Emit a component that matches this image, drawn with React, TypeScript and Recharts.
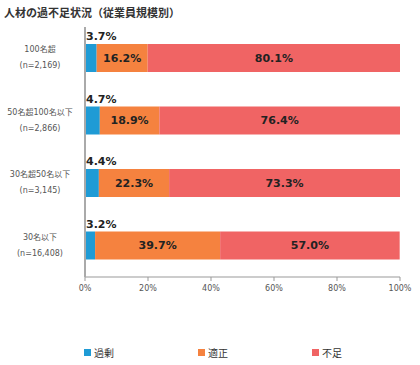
import { Bar, BarChart, LabelList, XAxis, YAxis } from 'recharts'

const sizes = ['100名超', '50名超100名以下', '30名超50名以下', '30名以下']
const counts = ['(n=2,169)', '(n=2,866)', '(n=3,145)', '(n=16,408)']
const excess = [3.7, 4.7, 4.4, 3.2]
const proper = [16.2, 18.9, 22.3, 39.7]
const shortage = [80.1, 76.4, 73.3, 57.0]
const xTicks = [0, 20, 40, 60, 80, 100]

const seriesNames = ['過剰', '適正', '不足']
const colors = ['#1f9bd5', '#f5823f', '#f06464']

const data = sizes.map((name, i) => ({
  name,
  n: counts[i],
  excess: excess[i],
  proper: proper[i],
  shortage: shortage[i],
}))

const font = '"DejaVu Sans", "Noto Sans CJK JP", sans-serif'

function CategoryTick({ x, y, payload, index }: any) {
  return (
    <g>
      <text x={x - 37} y={y - 6} textAnchor='middle' fontSize={8} fill='#555'>
        {payload.value}
      </text>
      <text x={x - 37} y={y + 10} textAnchor='middle' fontSize={8} fill='#555'>
        {counts[index]}
      </text>
    </g>
  )
}

function TopLabel({ x, y, value }: any) {
  return (
    <text x={x + 1} y={y - 4} fontSize={11} fontWeight='bold' fill='#222'>
      {`${value.toFixed(1)}%`}
    </text>
  )
}

const fmt = (v: any) => `${Number(v).toFixed(1)}%`

export default function App() {
  return (
    <div style={{ position: 'absolute', left: 0, top: 0, width: 420, height: 365, background: '#fff', fontFamily: font }}>
      <div style={{ position: 'absolute', left: 4, top: 4, fontSize: 11, fontWeight: 'bold', color: '#333' }}>
        人材の過不足状況（従業員規模別）
      </div>
      <BarChart
        width={420}
        height={365}
        data={data}
        layout='vertical'
        margin={{ top: 27, right: 20, bottom: 58, left: 0 }}
        barSize={28}
      >
        <XAxis
          type='number'
          domain={[0, 100]}
          ticks={xTicks}
          tickFormatter={(v) => `${v}%`}
          stroke='#999'
          tick={{ fontSize: 8, fill: '#555' }}
          tickSize={4}
          tickMargin={4}
          interval={0}
        />
        <YAxis
          type='category'
          dataKey='name'
          width={85}
          stroke='#aaa'
          strokeWidth={2}
          tickLine={false}
          tick={<CategoryTick />}
        />
        <Bar dataKey='excess' stackId='a' fill={colors[0]} isAnimationActive={false}>
          <LabelList dataKey='excess' content={<TopLabel />} />
        </Bar>
        <Bar dataKey='proper' stackId='a' fill={colors[1]} isAnimationActive={false}>
          <LabelList dataKey='proper' position='center' formatter={fmt} fontSize={11} fontWeight='bold' fill='#222' />
        </Bar>
        <Bar dataKey='shortage' stackId='a' fill={colors[2]} isAnimationActive={false}>
          <LabelList dataKey='shortage' position='center' formatter={fmt} fontSize={11} fontWeight='bold' fill='#222' />
        </Bar>
      </BarChart>
      <div style={{ position: 'absolute', top: 345, left: 84, display: 'flex', fontSize: 10, color: '#333' }}>
        {seriesNames.map((s, i) => (
          <div key={s} style={{ width: 114, display: 'flex', alignItems: 'center' }}>
            <span style={{ width: 7, height: 7, background: colors[i], marginRight: 3, display: 'inline-block' }} />
            {s}
          </div>
        ))}
      </div>
    </div>
  )
}
